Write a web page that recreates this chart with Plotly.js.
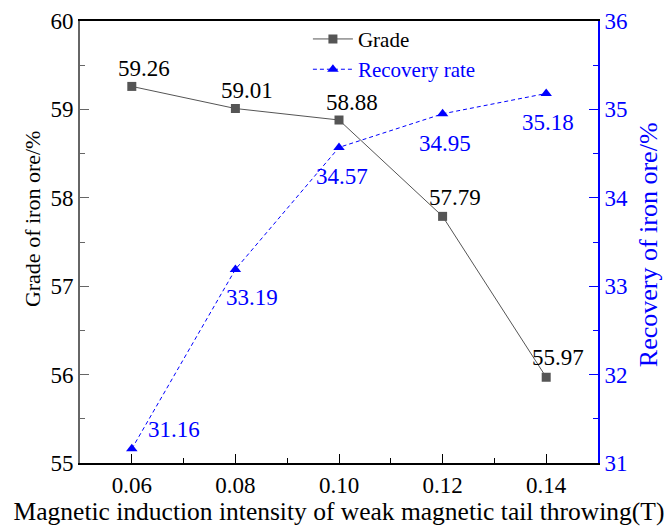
<!DOCTYPE html>
<html><head><meta charset="utf-8">
<script src="https://cdn.plot.ly/plotly-3.0.1.min.js"></script>
<style>html,body{margin:0;padding:0;background:#fff}</style>
</head><body>
<div id="chart" style="width:666px;height:526px"></div>
<script>
const intensity = [0.06, 0.08, 0.10, 0.12, 0.14];
const grade = [59.26, 59.01, 58.88, 57.79, 55.97];
const recovery = [31.16, 33.19, 34.57, 34.95, 35.18];
const xTickVals = [0.06, 0.08, 0.10, 0.12, 0.14];
const xTickText = ['0.06', '0.08', '0.10', '0.12', '0.14'];

const font = 'Liberation Serif';
const blue = '#0000ff';
const gray = '#555555';

const gradeShift = [[12, 18], [12, 18], [13, 18], [12, 19], [12, 20]];
const recShift = [[42, 19], [17, -28], [3, -29], [2, -30], [2, -29]];

const annotations = [];
intensity.forEach((x, i) => {
  annotations.push({x: x, y: grade[i], xref: 'x', yref: 'y', text: grade[i].toFixed(2),
    showarrow: false, xshift: gradeShift[i][0], yshift: gradeShift[i][1],
    font: {family: font, size: 23, color: '#000'}});
  annotations.push({x: x, y: recovery[i], xref: 'x', yref: 'y2', text: recovery[i].toFixed(2),
    showarrow: false, xshift: recShift[i][0], yshift: recShift[i][1],
    font: {family: font, size: 23, color: blue}});
});
annotations.push({xref: 'paper', yref: 'paper', x: -0.0927, y: 0.554, xanchor: 'center', yanchor: 'middle',
  text: 'Grade of iron ore/%', textangle: -90, showarrow: false,
  font: {family: font, size: 22, color: '#000'}});
annotations.push({xref: 'paper', yref: 'paper', x: 1.0965, y: 0.495, xanchor: 'center', yanchor: 'middle',
  text: 'Recovery of iron ore/%', textangle: -90, showarrow: false,
  font: {family: font, size: 26, color: blue}});

const data = [
  {x: intensity, y: grade, name: 'Grade', type: 'scatter', mode: 'lines+markers',
   line: {color: gray, width: 1}, marker: {symbol: 'square', size: 9, color: gray}},
  {x: intensity, y: recovery, name: '<span style="color:#0000ff">Recovery rate</span>', yaxis: 'y2',
   type: 'scatter', mode: 'lines+markers',
   line: {color: blue, width: 1, dash: '4px,3px'}, marker: {symbol: 'triangle-up', size: 10, color: blue}}
];

const layout = {
  width: 666, height: 526,
  margin: {l: 80, r: 68, t: 21, b: 63},
  paper_bgcolor: '#fff', plot_bgcolor: '#fff',
  font: {family: font, size: 20, color: '#000'},
  showlegend: true,
  legend: {x: 0.44, y: 1.005, xanchor: 'left', yanchor: 'top', bgcolor: 'rgba(0,0,0,0)',
           font: {family: font, size: 21, color: '#000'}, tracegroupgap: 0, itemwidth: 40},
  xaxis: {range: [0.05, 0.15], tickvals: xTickVals, ticktext: xTickText,
          showgrid: false, zeroline: false, showline: true, linecolor: '#000', linewidth: 2,
          mirror: true, ticks: 'inside', ticklen: 9, tickcolor: '#000',
          minor: {dtick: 0.01, tick0: 0.05, ticks: 'inside', ticklen: 5, tickcolor: '#000'},
          tickfont: {family: font, size: 23, color: '#000'},
          title: {text: 'Magnetic induction intensity of weak magnetic tail throwing(T)',
                  font: {family: font, size: 25.5, color: '#000'}, standoff: 2}},
  yaxis: {range: [55, 60], dtick: 1, showgrid: false, zeroline: false, showline: true,
          linecolor: '#666', linewidth: 2, ticks: 'inside', ticklen: 9, tickcolor: '#666',
          minor: {dtick: 0.5, ticks: 'inside', ticklen: 5, tickcolor: '#666'},
          tickfont: {family: font, size: 23, color: '#000'}},
  yaxis2: {range: [31, 36], dtick: 1, overlaying: 'y', side: 'right', showgrid: false, zeroline: false,
           showline: true, linecolor: blue, linewidth: 2, ticks: 'inside', ticklen: 9, tickcolor: blue,
           minor: {dtick: 0.5, ticks: 'inside', ticklen: 5, tickcolor: blue},
           tickfont: {family: font, size: 23, color: blue}},
  annotations: annotations
};

Plotly.newPlot('chart', data, layout, {displayModeBar: false, staticPlot: true});
</script>
</body></html>
